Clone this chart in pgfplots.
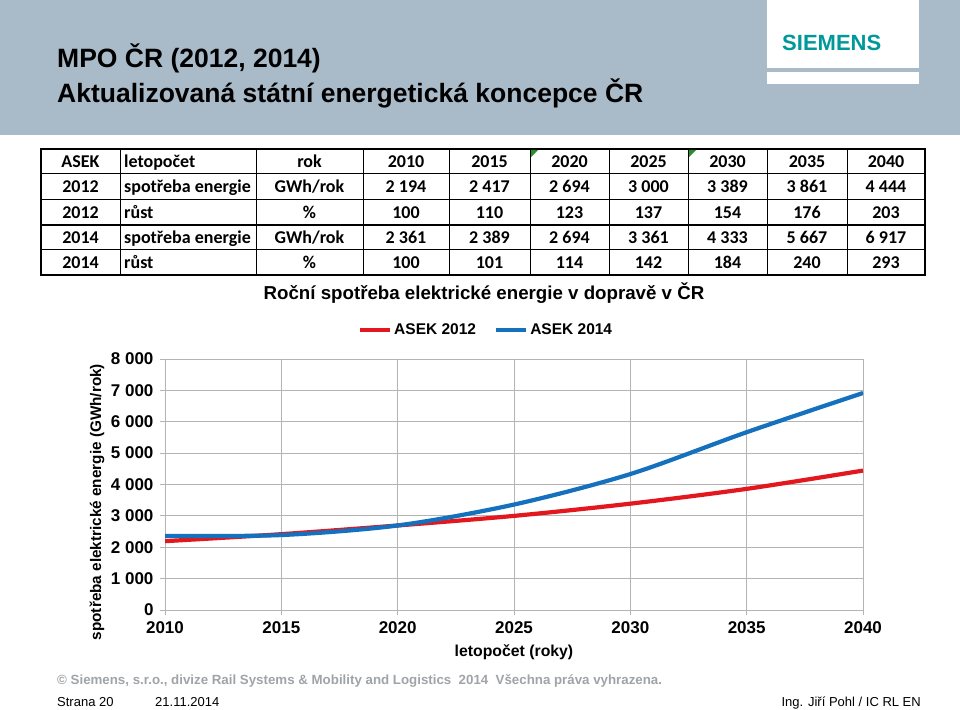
\documentclass[border=0pt]{standalone}
\usepackage{pgfplots}
\pgfplotsset{compat=1.18}
\usepackage{fontspec}
\setmainfont{Liberation Sans}
\newfontfamily\calfont{Carlito}
\definecolor{hdr}{HTML}{A9BAC8}
\definecolor{siem}{HTML}{009999}
\definecolor{foot}{HTML}{A0A4A8}
\definecolor{gridc}{HTML}{B4B4B4}
\definecolor{redl}{HTML}{E3181E}
\definecolor{bluel}{HTML}{1570BE}
\definecolor{tgreen}{HTML}{2E8B2E}
\begin{document}
\begin{tikzpicture}[x=1pt,y=1pt]
\useasboundingbox (0,0) rectangle (960,709);
\fill[white] (0,0) rectangle (960,709);
% header
\fill[hdr] (0,574) rectangle (960,709);
\fill[white] (767,641) rectangle (919,709);
\fill[white] (767,625) rectangle (919,637);
\node[anchor=base west,inner sep=0,text=siem] at (782,658) {\fontsize{22}{22}\selectfont\bfseries SIEMENS};
\node[anchor=base west,inner sep=0] at (57,641) {\fontsize{26.5}{26.5}\selectfont\bfseries MPO ČR (2012, 2014)};
\node[anchor=base west,inner sep=0] at (57,606) {\fontsize{26.5}{26.5}\selectfont\bfseries Aktualizovaná státní energetická koncepce ČR};
% table
\foreach \yy in {535,509,459} {\draw[line width=1pt] (41,\yy) -- (925,\yy);}
\draw[line width=1.8pt] (41,484) -- (925,484);
\foreach \xx in {120,256,363,449,530,609,688,767,847} {\draw[line width=1pt] (\xx,434) -- (\xx,560);}
\draw[line width=2pt] (41,434) rectangle (925,560);
\fill[tgreen] (531,559) -- (538,559) -- (531,552) -- cycle;
\fill[tgreen] (689,559) -- (696,559) -- (689,552) -- cycle;
\begin{scope}[every node/.style={inner sep=0,anchor=base,font=\calfont\fontsize{18}{18}\selectfont\bfseries}]
\foreach \ya/\yb/\yc/\yd/\ye/\yf/\yg/\yh/\yi/\yj/\yy in {
 ASEK/letopočet/rok/2010/2015/2020/2025/2030/2035/2040/541.5,
 2012/spotřeba energie/GWh\slash rok/2 194/2 417/2 694/3 000/3 389/3 861/4 444/516,
 2012/růst/\%/100/110/123/137/154/176/203/490.5,
 2014/spotřeba energie/GWh\slash rok/2 361/2 389/2 694/3 361/4 333/5 667/6 917/465.5,
 2014/růst/\%/100/101/114/142/184/240/293/440.5} {
 \node at (80.5,\yy) {\ya};
 \node[anchor=base west] at (124,\yy) {\yb};
 \node at (309.5,\yy) {\yc};
 \node at (406,\yy) {\yd};
 \node at (489.5,\yy) {\ye};
 \node at (569.5,\yy) {\yf};
 \node at (648.5,\yy) {\yg};
 \node at (727.5,\yy) {\yh};
 \node at (807,\yy) {\yi};
 \node at (886,\yy) {\yj};
}
\end{scope}
% chart
\begin{axis}[
  at={(165pt,99pt)}, anchor=south west,
  scale only axis, width=698pt, height=251pt,
  xmin=2010, xmax=2040, ymin=0, ymax=8000,
  axis lines=left, axis line style={-, draw=gridc, line width=1pt},
  grid=major, major grid style={draw=gridc, line width=1pt},
  xtick={2010,2015,2020,2025,2030,2035,2040},
  xticklabels={2010,2015,2020,2025,2030,2035,2040},
  ytick={0,1000,2000,3000,4000,5000,6000,7000,8000},
  yticklabels={0,1 000,2 000,3 000,4 000,5 000,6 000,7 000,8 000},
  tick align=outside, major tick length=5pt,
  tick style={draw=gridc, line width=1pt},
  ticklabel style={font=\fontsize{17}{17}\selectfont\bfseries},
  xticklabel style={yshift=-3pt},
  yticklabel style={xshift=-3pt},
  title={Roční spotřeba elektrické energie v dopravě v ČR},
  title style={at={(axis description cs:0.457,1.215)}, anchor=base, inner sep=0, font=\fontsize{18.7}{18.7}\selectfont\bfseries},
  xlabel={letopočet (roky)},
  xlabel style={at={(axis description cs:0.5,-0.187)}, anchor=base, inner sep=0, font=\fontsize{15.8}{15.8}\selectfont\bfseries},
  ylabel={spotřeba elektrické energie (GWh/rok)},
  ylabel style={at={(axis description cs:-0.0915,0.43)}, anchor=base, inner sep=0, rotate=0, font=\fontsize{15.3}{15.3}\selectfont\bfseries},
  legend columns=2,
  legend style={at={(axis description cs:0.46,1.116)}, anchor=center, draw=none, fill=none,
    font=\fontsize{15.5}{16}\selectfont\bfseries, /tikz/every even column/.append style={column sep=16pt}},
  legend image code/.code={\draw[#1] (0pt,0pt) -- (30pt,0pt);},
]
\addplot[redl, line width=4.2pt, smooth] coordinates {(2010,2194) (2015,2417) (2020,2694) (2025,3000) (2030,3389) (2035,3861) (2040,4444)};
\addlegendentry{ASEK 2012}
\addplot[bluel, line width=4.2pt, smooth] coordinates {(2010,2361) (2015,2389) (2020,2694) (2025,3361) (2030,4333) (2035,5667) (2040,6917)};
\addlegendentry{ASEK 2014}
\end{axis}
% footer
\node[anchor=base west,inner sep=0,text=foot] at (57,25) {\fontsize{13.3}{14}\selectfont\bfseries © Siemens, s.r.o., divize Rail Systems \& Mobility and Logistics\ \ 2014\ \ Všechna práva vyhrazena.};
\node[anchor=base west,inner sep=0] at (57,3) {\fontsize{13}{13}\selectfont Strana 20};
\node[anchor=base west,inner sep=0] at (155,3) {\fontsize{13}{13}\selectfont 21.11.2014};
\node[anchor=base east,inner sep=0] at (921,3) {\fontsize{13}{13}\selectfont Ing. Jiří Pohl / IC RL EN};
\end{tikzpicture}
\end{document}
